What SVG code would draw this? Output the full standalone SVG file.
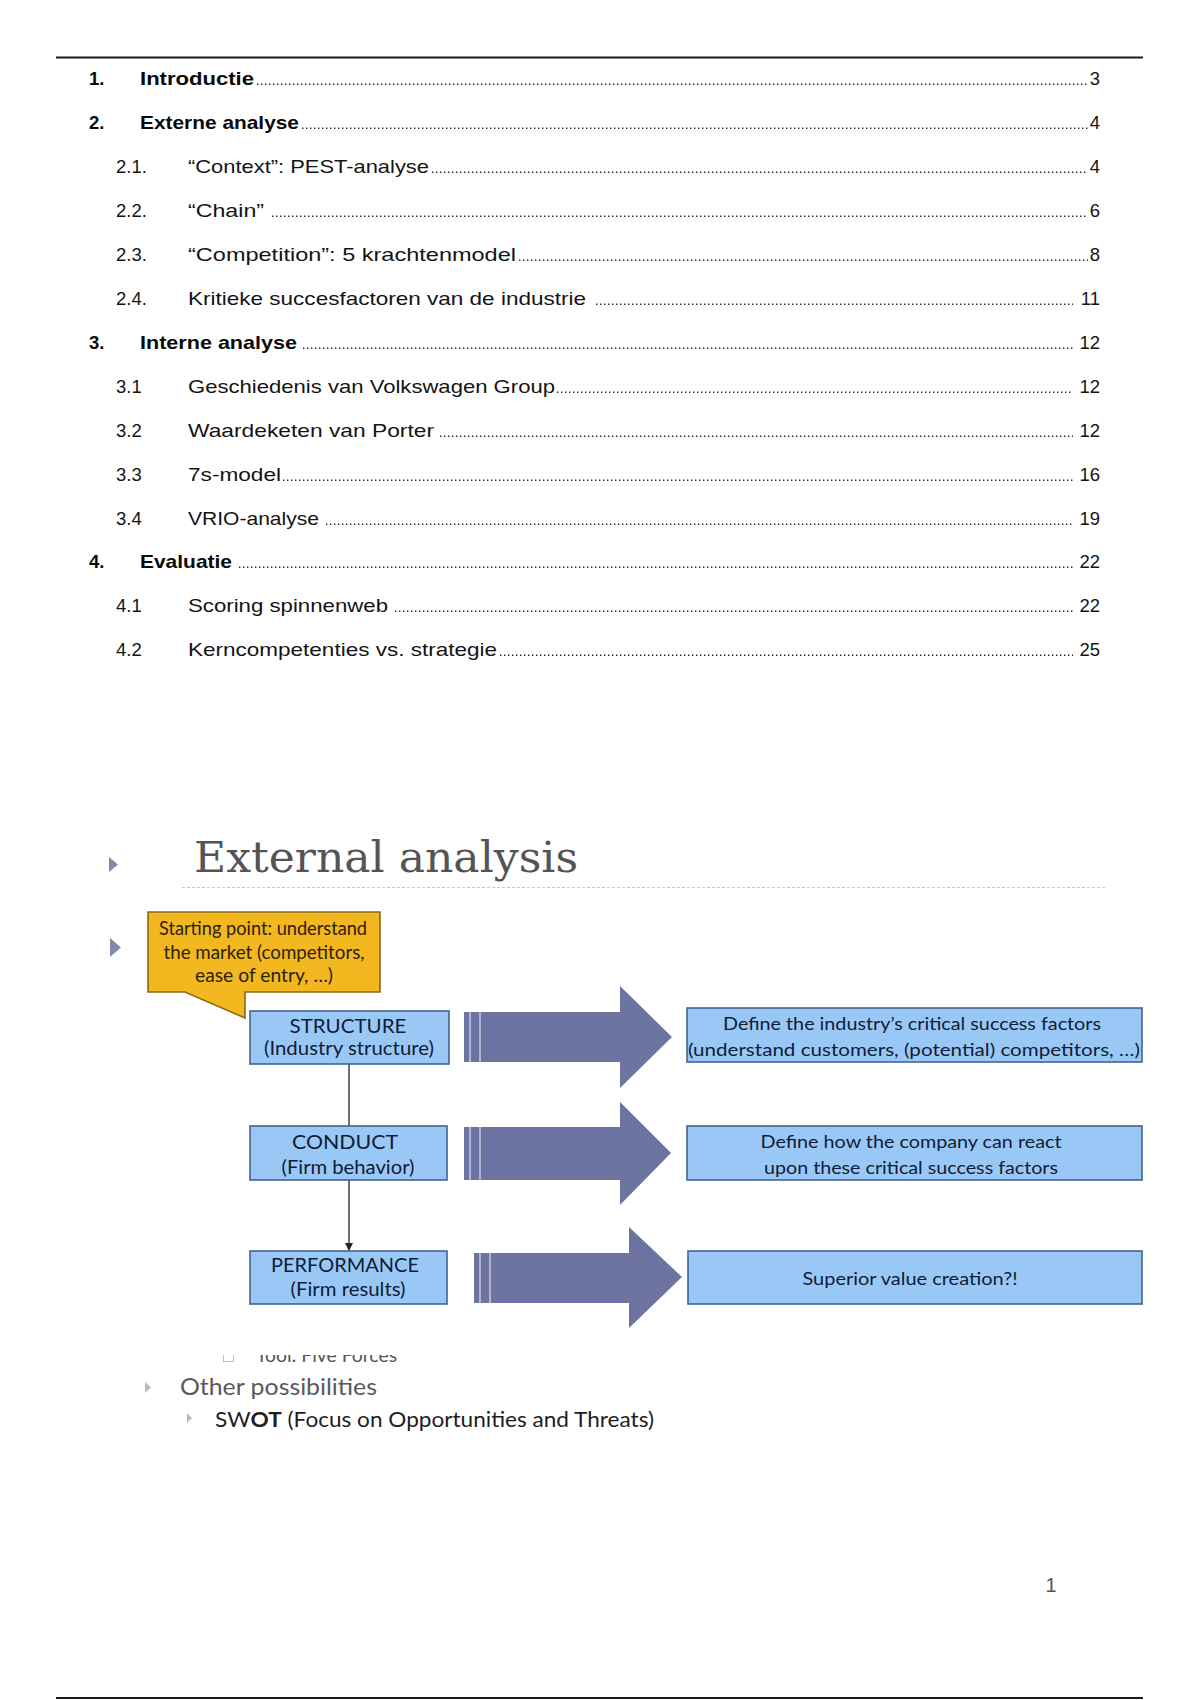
<svg xmlns="http://www.w3.org/2000/svg" width="1200" height="1700" viewBox="0 0 1200 1700">
  <defs>
    <style>
      .toc { font-family: "Liberation Sans", Arial, sans-serif; font-size: 18.5px; fill: #141414; }
      .b { font-weight: bold; fill: #0a0a0a; }
      .dots { stroke: #2a2a2a; stroke-width: 1.6; stroke-dasharray: 1.4 2.6; fill: none; }
      .slide { font-family: Lato, "Open Sans", sans-serif; }
      .box { fill: #9ac8f6; stroke: #46638c; stroke-width: 1.6; }
      .boxtxt { font-family: Lato, "Open Sans", sans-serif; font-size: 18.5px; fill: #0f1c36; text-anchor: middle; }
      .rtxt { font-family: Lato, "Open Sans", sans-serif; font-size: 17px; fill: #0f1c36; text-anchor: middle; }
      .bigarrow { fill: #6d74a1; }
      .stripe { stroke: #d3d6e8; stroke-width: 1.3; }
      .conn { stroke: #333; stroke-width: 1.4; fill: none; }
      .tri { fill: #8389b0; }
      .tri2 { fill: #b9b9b9; }
    </style>
    <marker id="ah" markerWidth="8" markerHeight="8" refX="7" refY="4" orient="auto" markerUnits="userSpaceOnUse">
      <path d="M0,0 L8,4 L0,8 Z" fill="#222"/>
    </marker>
    <clipPath id="cut">
      <rect x="200" y="1355" width="300" height="20"/>
    </clipPath>
  </defs>

  <rect x="0" y="0" width="1200" height="1700" fill="#ffffff"/>

  <!-- page rules -->
  <line x1="56" y1="57.5" x2="1143" y2="57.5" stroke="#1a1a1a" stroke-width="2.2"/>
  <line x1="56" y1="1698" x2="1143" y2="1698" stroke="#1a1a1a" stroke-width="2.2"/>

  <!-- Table of contents -->
  <g id="toc">
    <g id="toc-1" class="toc">
      <text x="89" y="85" class="b">1.</text>
      <text x="140" y="85" class="b" textLength="114" lengthAdjust="spacingAndGlyphs">Introductie</text>
      <line class="dots" x1="257" y1="84.2" x2="1088" y2="84.2"/>
      <text x="1100" y="85" text-anchor="end">3</text>
    </g>
    <g id="toc-2" class="toc">
      <text x="89" y="129" class="b">2.</text>
      <text x="140" y="129" class="b" textLength="159" lengthAdjust="spacingAndGlyphs">Externe analyse</text>
      <line class="dots" x1="302" y1="128.2" x2="1088" y2="128.2"/>
      <text x="1100" y="129" text-anchor="end">4</text>
    </g>
    <g id="toc-2-1" class="toc">
      <text x="116" y="173">2.1.</text>
      <text x="188" y="173" textLength="241" lengthAdjust="spacingAndGlyphs">“Context”: PEST-analyse</text>
      <line class="dots" x1="432" y1="172.2" x2="1088" y2="172.2"/>
      <text x="1100" y="173" text-anchor="end">4</text>
    </g>
    <g id="toc-2-2" class="toc">
      <text x="116" y="217">2.2.</text>
      <text x="188" y="217" textLength="76" lengthAdjust="spacingAndGlyphs">“Chain”</text>
      <line class="dots" x1="272" y1="216.2" x2="1088" y2="216.2"/>
      <text x="1100" y="217" text-anchor="end">6</text>
    </g>
    <g id="toc-2-3" class="toc">
      <text x="116" y="261">2.3.</text>
      <text x="188" y="261" textLength="328" lengthAdjust="spacingAndGlyphs">“Competition”: 5 krachtenmodel</text>
      <line class="dots" x1="519" y1="260.2" x2="1088" y2="260.2"/>
      <text x="1100" y="261" text-anchor="end">8</text>
    </g>
    <g id="toc-2-4" class="toc">
      <text x="116" y="305">2.4.</text>
      <text x="188" y="305" textLength="398" lengthAdjust="spacingAndGlyphs">Kritieke succesfactoren van de industrie</text>
      <line class="dots" x1="596" y1="304.2" x2="1073" y2="304.2"/>
      <text x="1100" y="305" text-anchor="end">11</text>
    </g>
    <g id="toc-3" class="toc">
      <text x="89" y="349" class="b">3.</text>
      <text x="140" y="349" class="b" textLength="157" lengthAdjust="spacingAndGlyphs">Interne analyse</text>
      <line class="dots" x1="303" y1="348.2" x2="1073" y2="348.2"/>
      <text x="1100" y="349" text-anchor="end">12</text>
    </g>
    <g id="toc-3-1" class="toc">
      <text x="116" y="393">3.1</text>
      <text x="188" y="393" textLength="367" lengthAdjust="spacingAndGlyphs">Geschiedenis van Volkswagen Group</text>
      <line class="dots" x1="557" y1="392.2" x2="1073" y2="392.2"/>
      <text x="1100" y="393" text-anchor="end">12</text>
    </g>
    <g id="toc-3-2" class="toc">
      <text x="116" y="437">3.2</text>
      <text x="188" y="437" textLength="246" lengthAdjust="spacingAndGlyphs">Waardeketen van Porter</text>
      <line class="dots" x1="440" y1="436.2" x2="1073" y2="436.2"/>
      <text x="1100" y="437" text-anchor="end">12</text>
    </g>
    <g id="toc-3-3" class="toc">
      <text x="116" y="481">3.3</text>
      <text x="188" y="481" textLength="93" lengthAdjust="spacingAndGlyphs">7s-model</text>
      <line class="dots" x1="283" y1="480.2" x2="1073" y2="480.2"/>
      <text x="1100" y="481" text-anchor="end">16</text>
    </g>
    <g id="toc-3-4" class="toc">
      <text x="116" y="525">3.4</text>
      <text x="188" y="525" textLength="131" lengthAdjust="spacingAndGlyphs">VRIO-analyse</text>
      <line class="dots" x1="326" y1="524.2" x2="1073" y2="524.2"/>
      <text x="1100" y="525" text-anchor="end">19</text>
    </g>
    <g id="toc-4" class="toc">
      <text x="89" y="568" class="b">4.</text>
      <text x="140" y="568" class="b" textLength="92" lengthAdjust="spacingAndGlyphs">Evaluatie</text>
      <line class="dots" x1="239" y1="567.2" x2="1073" y2="567.2"/>
      <text x="1100" y="568" text-anchor="end">22</text>
    </g>
    <g id="toc-4-1" class="toc">
      <text x="116" y="612">4.1</text>
      <text x="188" y="612" textLength="200" lengthAdjust="spacingAndGlyphs">Scoring spinnenweb</text>
      <line class="dots" x1="395" y1="611.2" x2="1073" y2="611.2"/>
      <text x="1100" y="612" text-anchor="end">22</text>
    </g>
    <g id="toc-4-2" class="toc">
      <text x="116" y="656">4.2</text>
      <text x="188" y="656" textLength="309" lengthAdjust="spacingAndGlyphs">Kerncompetenties vs. strategie</text>
      <line class="dots" x1="500" y1="655.2" x2="1073" y2="655.2"/>
      <text x="1100" y="656" text-anchor="end">25</text>
    </g>
  </g>

  <!-- Slide -->
  <g id="slide-title">
    <path class="tri" d="M109,857 L118,864.5 L109,872 Z"/>
    <text x="194" y="872" font-family="'DejaVu Serif', 'Liberation Serif', serif" font-size="42" fill="#545454" textLength="384" lengthAdjust="spacingAndGlyphs">External analysis</text>
    <line x1="182" y1="887.5" x2="1107" y2="887.5" stroke="#c9c9c9" stroke-width="1.2" stroke-dasharray="3 2"/>
    <path class="tri" d="M110,938 L121,947.5 L110,957 Z"/>
  </g>

  <g id="callout">
    <path d="M148,912 L380,912 L380,992 L245,992 L245,1018 L185,992 L148,992 Z" fill="#f3b720" stroke="#8a6a16" stroke-width="1.6" stroke-linejoin="miter"/>
    <text class="slide" x="263" y="935" font-size="18.5" fill="#2b2206" text-anchor="middle" textLength="208" lengthAdjust="spacingAndGlyphs">Starting point: understand</text>
    <text class="slide" x="264" y="959" font-size="18.5" fill="#2b2206" text-anchor="middle" textLength="201" lengthAdjust="spacingAndGlyphs">the market (competitors,</text>
    <text class="slide" x="264" y="982" font-size="18.5" fill="#2b2206" text-anchor="middle" textLength="138" lengthAdjust="spacingAndGlyphs">ease of entry, …)</text>
  </g>

  <!-- connectors -->
  <g id="connectors">
    <line class="conn" x1="349" y1="1063" x2="349" y2="1126"/>
    <line class="conn" x1="349" y1="1180" x2="349" y2="1250" marker-end="url(#ah)"/>
  </g>

  <g id="structure">
    <rect class="box" x="250" y="1011" width="199" height="53"/>
    <text class="boxtxt" x="348" y="1033" textLength="117" lengthAdjust="spacingAndGlyphs">STRUCTURE</text>
    <text class="boxtxt" x="349" y="1055" textLength="170" lengthAdjust="spacingAndGlyphs">(Industry structure)</text>
  </g>
  <g id="conduct">
    <rect class="box" x="250" y="1126" width="197" height="54"/>
    <text class="boxtxt" x="345" y="1149" textLength="106" lengthAdjust="spacingAndGlyphs">CONDUCT</text>
    <text class="boxtxt" x="348" y="1174" textLength="133" lengthAdjust="spacingAndGlyphs">(Firm behavior)</text>
  </g>
  <g id="performance">
    <rect class="box" x="250" y="1251" width="197" height="53"/>
    <text class="boxtxt" x="345" y="1272" textLength="148" lengthAdjust="spacingAndGlyphs">PERFORMANCE</text>
    <text class="boxtxt" x="348" y="1296" textLength="115" lengthAdjust="spacingAndGlyphs">(Firm results)</text>
  </g>

  <g id="arrow-1">
    <path class="bigarrow" d="M464,1012 L620,1012 L620,986 L672,1037 L620,1088 L620,1062 L464,1062 Z"/>
    <line class="stripe" x1="470" y1="1012" x2="470" y2="1062"/>
    <line class="stripe" x1="480" y1="1012" x2="480" y2="1062"/>
  </g>
  <g id="arrow-2">
    <path class="bigarrow" d="M464,1127 L620,1127 L620,1102 L671,1153 L620,1205 L620,1180 L464,1180 Z"/>
    <line class="stripe" x1="470" y1="1127" x2="470" y2="1180"/>
    <line class="stripe" x1="480" y1="1127" x2="480" y2="1180"/>
  </g>
  <g id="arrow-3">
    <path class="bigarrow" d="M474,1253 L629,1253 L629,1227 L682,1277 L629,1328 L629,1303 L474,1303 Z"/>
    <line class="stripe" x1="480" y1="1253" x2="480" y2="1303"/>
    <line class="stripe" x1="490" y1="1253" x2="490" y2="1303"/>
  </g>

  <g id="csf">
    <rect class="box" x="687" y="1008" width="455" height="54"/>
    <text class="rtxt" x="912" y="1030" textLength="378" lengthAdjust="spacingAndGlyphs">Define the industry’s critical success factors</text>
    <text class="rtxt" x="914" y="1056" textLength="452" lengthAdjust="spacingAndGlyphs">(understand customers, (potential) competitors, …)</text>
  </g>
  <g id="react">
    <rect class="box" x="687" y="1126" width="455" height="54"/>
    <text class="rtxt" x="911" y="1148" textLength="301" lengthAdjust="spacingAndGlyphs">Define how the company can react</text>
    <text class="rtxt" x="911" y="1174" textLength="294" lengthAdjust="spacingAndGlyphs">upon these critical success factors</text>
  </g>
  <g id="value">
    <rect class="box" x="688" y="1251" width="454" height="53"/>
    <text class="rtxt" x="910" y="1285" textLength="215" lengthAdjust="spacingAndGlyphs">Superior value creation?!</text>
  </g>

  <!-- partly hidden bullet text -->
  <g id="hidden-line" clip-path="url(#cut)">
    <rect x="223.5" y="1350" width="10" height="11.5" fill="none" stroke="#bdbdbd" stroke-width="1"/>
    <text class="slide" x="256" y="1362" font-size="20" fill="#555" textLength="141" lengthAdjust="spacingAndGlyphs">Tool: Five Forces</text>
  </g>

  <g id="other">
    <path class="tri2" d="M145,1382 L151,1387.5 L145,1393 Z"/>
    <text class="slide" x="180" y="1395" font-size="23.5" fill="#595959" textLength="197" lengthAdjust="spacingAndGlyphs">Other possibilities</text>
    <path class="tri2" d="M187,1413 L192,1418 L187,1423 Z"/>
    <text class="slide" x="215" y="1427" font-size="20.5" fill="#1e1e1e" textLength="439" lengthAdjust="spacingAndGlyphs">SW<tspan font-weight="bold">OT</tspan> (Focus on Opportunities and Threats)</text>
  </g>

  <text id="pagenum" x="1051" y="1592" font-family="'Liberation Sans', Arial, sans-serif" font-size="20" fill="#555" text-anchor="middle">1</text>
</svg>
